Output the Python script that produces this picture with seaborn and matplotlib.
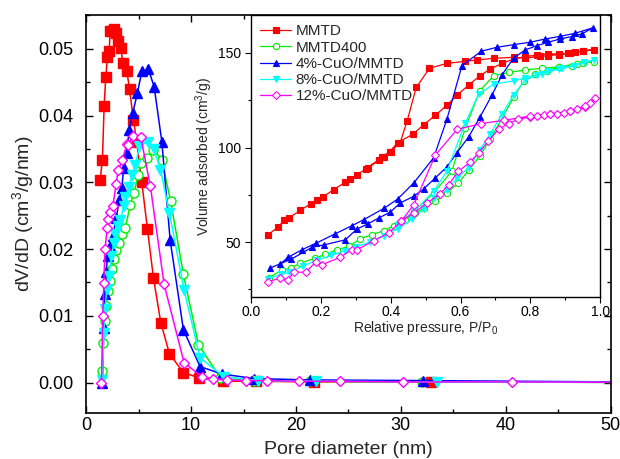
import matplotlib
matplotlib.use("Agg")
import matplotlib.pyplot as plt
import seaborn as sns
import numpy as np
from matplotlib.ticker import MultipleLocator

sns.set_theme(style="white")
plt.rcParams['font.family'] = ['Liberation Sans', 'DejaVu Sans']
plt.rcParams['mathtext.fontset'] = 'custom'
plt.rcParams['mathtext.rm'] = 'Liberation Sans'
plt.rcParams['mathtext.it'] = 'Liberation Sans'

labels = ["MMTD", "MMTD400", "4%-CuO/MMTD", "8%-CuO/MMTD", "12%-CuO/MMTD"]
colors = ["#FF0000", "#00EE00", "#0000FF", "#00FFFF", "#FF00FF"]

# ---- main panel: pore size distribution ----
d_mmtd = [1.33, 1.55, 1.71, 1.87, 2.03, 2.19, 2.29, 2.45, 2.67, 2.86, 3.08, 3.30, 3.50, 3.87, 4.13,
          4.50, 4.82, 5.30, 5.84, 6.41, 7.11, 7.94, 9.27, 10.8, 13.0, 16.2, 21.7, 32.9, 60.0]
v_mmtd = [0.0304, 0.0334, 0.0414, 0.0458, 0.0488, 0.0497, 0.0526, 0.0527, 0.0529, 0.0523, 0.0511,
          0.0501, 0.0479, 0.0467, 0.0440, 0.0394, 0.0360, 0.0300, 0.0230, 0.0157, 0.0090, 0.0043,
          0.0015, 0.0007, 0.0002, 0.0002, 0.0001, 0.0001, 0.0000]

d_400 = [1.50, 1.62, 1.75, 1.90, 2.05, 2.25, 2.45, 2.63, 2.85, 3.10, 3.43, 3.74, 4.20, 4.54, 4.98,
         5.20, 5.78, 6.41, 7.20, 8.05, 9.27, 10.7, 12.8, 16.0, 21.3, 32.0, 60.0]
v_400 = [0.0017, 0.0060, 0.0092, 0.0115, 0.0137, 0.0152, 0.0170, 0.0185, 0.0198, 0.0209, 0.0222,
         0.0232, 0.0266, 0.0284, 0.0311, 0.0329, 0.0336, 0.0349, 0.0334, 0.0272, 0.0162, 0.0057,
         0.0007, 0.0002, 0.0002, 0.0001, 0.0000]

d_4 = [1.55, 1.68, 1.78, 1.90, 2.05, 2.25, 2.54, 2.86, 3.17, 3.40, 3.56, 3.87, 4.10, 4.44, 4.89,
       5.30, 5.94, 6.48, 7.21, 8.00, 9.27, 10.86, 12.9, 16.0, 21.3, 32.1, 60.0]
v_4 = [0.0000, 0.0082, 0.0132, 0.0165, 0.0190, 0.0205, 0.0219, 0.0247, 0.0274, 0.0291, 0.0321,
       0.0344, 0.0379, 0.0404, 0.0434, 0.0466, 0.0469, 0.0443, 0.0361, 0.0214, 0.0079, 0.0024,
       0.0013, 0.0006, 0.0004, 0.0003, 0.0000]

d_8 = [1.55, 1.68, 1.80, 1.95, 2.16, 2.40, 2.63, 2.79, 3.00, 3.27, 3.59, 3.74, 4.06, 4.38, 4.69,
       5.08, 5.90, 6.45, 7.08, 7.94, 9.33, 10.86, 13.1, 16.4, 21.9, 33.4, 60.0]
v_8 = [0.0004, 0.0074, 0.0110, 0.0140, 0.0159, 0.0190, 0.0209, 0.0222, 0.0235, 0.0244, 0.0264,
       0.0278, 0.0293, 0.0311, 0.0326, 0.0354, 0.0361, 0.0350, 0.0319, 0.0254, 0.0139, 0.0037,
       0.0009, 0.0003, 0.0002, 0.0001, 0.0000]

d_12 = [1.46, 1.58, 1.68, 1.80, 2.00, 2.10, 2.30, 2.54, 2.86, 3.05, 3.43, 3.90, 4.03, 4.44, 5.20,
        6.12, 7.43, 9.33, 11.0, 12.1, 13.4, 15.2, 17.2, 20.3, 24.2, 30.2, 40.6, 60.0]
v_12 = [0.0000, 0.0100, 0.0149, 0.0200, 0.0232, 0.0245, 0.0255, 0.0264, 0.0298, 0.0318, 0.0333,
        0.0358, 0.0356, 0.0369, 0.0368, 0.0294, 0.0147, 0.0030, 0.0009, 0.0006, 0.0004, 0.0003,
        0.0003, 0.0002, 0.0002, 0.0001, 0.0001, 0.0000]

# ---- inset: N2 isotherms (adsorption then desorption) ----
p_mmtd = [0.049, 0.076, 0.095, 0.108, 0.141, 0.172, 0.189, 0.206, 0.237, 0.270, 0.284, 0.303, 0.329,
          0.365, 0.374, 0.397, 0.420, 0.463, 0.494, 0.528, 0.561, 0.590, 0.623, 0.656, 0.685, 0.719,
          0.752, 0.785, 0.819, 0.852, 0.881, 0.914, 0.952, 0.981,
          0.952, 0.928, 0.909, 0.881, 0.852, 0.828, 0.785, 0.752, 0.695, 0.647, 0.614, 0.561, 0.511,
          0.473, 0.447, 0.427, 0.400, 0.380, 0.335]
q_mmtd = [53.9, 57.8, 61.5, 62.7, 66.8, 70.4, 72.3, 73.9, 77.8, 81.7, 83.5, 85.4, 88.9,
          93.4, 95.0, 97.8, 102.6, 107.0, 112.0, 117.1, 122.4, 127.7, 133.0, 138.0, 141.5, 144.5,
          146.8, 148.1, 148.9, 149.5, 149.5, 149.8, 151.2, 151.8,
          150.9, 150.4, 149.8, 149.1, 148.6, 148.2, 147.3, 147.7, 147.2, 146.3, 145.6, 144.5, 141.9,
          131.8, 114.0, 102.6, 97.8, 95.0, 89.3]

p_400 = [0.051, 0.089, 0.113, 0.141, 0.184, 0.213, 0.246, 0.280, 0.313, 0.346, 0.380, 0.408, 0.442,
         0.470, 0.496, 0.528, 0.561, 0.594, 0.623, 0.655, 0.685, 0.719, 0.752, 0.781, 0.814, 0.847,
         0.881, 0.919, 0.952, 0.981,
         0.933, 0.881, 0.833, 0.785, 0.740, 0.695, 0.655, 0.614, 0.575, 0.523, 0.466, 0.420]
q_400 = [31.2, 35.3, 36.2, 38.9, 41.5, 43.6, 46.0, 47.7, 51.8, 53.9, 56.0, 58.7, 61.9,
         65.4, 68.0, 71.6, 76.0, 81.3, 87.9, 95.5, 104.3, 115.5, 126.5, 135.3, 138.8, 140.6,
         142.4, 143.3, 144.5, 145.4,
         144.2, 142.7, 141.9, 141.0, 139.7, 138.0, 130.0, 110.5, 87.5, 76.0, 66.3, 59.5]

p_4 = [0.053, 0.115, 0.175, 0.210, 0.270, 0.303, 0.335, 0.365, 0.399, 0.427, 0.466, 0.494, 0.528,
       0.561, 0.590, 0.623, 0.656, 0.690, 0.719, 0.752, 0.785, 0.819, 0.852, 0.885, 0.919, 0.948,
       0.979,
       0.928, 0.885, 0.843, 0.800, 0.752, 0.704, 0.659, 0.604, 0.561, 0.523, 0.466, 0.420, 0.382,
       0.323, 0.289, 0.241, 0.187, 0.146, 0.105, 0.084]
q_4 = [36.2, 41.0, 47.3, 48.6, 51.2, 56.9, 59.7, 62.7, 65.9, 70.7, 74.2, 78.1, 84.0,
       89.8, 97.3, 105.6, 116.2, 127.7, 138.5, 147.3, 151.6, 153.9, 155.7, 157.4, 158.7, 160.1,
       163.3,
       160.4, 158.8, 157.4, 155.7, 154.4, 153.0, 150.9, 143.3, 115.0, 94.6, 81.3, 72.8, 68.0,
       61.9, 58.7, 54.4, 49.5, 46.0, 41.9, 38.5]

p_8 = [0.049, 0.085, 0.110, 0.150, 0.190, 0.230, 0.270, 0.300, 0.340, 0.380, 0.420, 0.460, 0.495,
       0.523, 0.561, 0.590, 0.623, 0.655, 0.685, 0.719, 0.752, 0.785, 0.819, 0.852, 0.890, 0.924,
       0.955, 0.981,
       0.924, 0.881, 0.833, 0.785, 0.752, 0.695, 0.652, 0.614, 0.561, 0.523, 0.466, 0.420]
q_8 = [30.5, 33.0, 34.0, 37.5, 40.5, 43.0, 45.5, 47.5, 50.0, 53.5, 57.0, 62.0, 67.5,
       73.4, 77.4, 84.0, 89.3, 98.5, 107.3, 117.6, 127.9, 135.5, 138.5, 140.5, 141.8, 143.3,
       145.0, 146.3,
       143.3, 141.5, 138.8, 136.7, 135.3, 133.5, 128.2, 113.2, 87.5, 76.9, 66.0, 59.0]

p_12 = [0.049, 0.082, 0.105, 0.122, 0.156, 0.187, 0.203, 0.254, 0.289, 0.303, 0.351, 0.394, 0.430,
        0.466, 0.504, 0.542, 0.566, 0.594, 0.628, 0.652, 0.680, 0.709, 0.738, 0.766, 0.800, 0.819,
        0.838, 0.857, 0.876, 0.895, 0.914, 0.933, 0.957, 0.971, 0.986,
        0.957, 0.914, 0.857, 0.800, 0.724, 0.660, 0.590, 0.528, 0.466, 0.430]
q_12 = [28.8, 31.2, 30.0, 34.1, 34.1, 39.7, 38.0, 41.9, 46.0, 46.0, 50.7, 54.8, 61.0,
        65.4, 70.7, 75.5, 80.4, 87.5, 92.3, 97.3, 103.5, 109.6, 112.7, 115.0, 116.2, 116.7,
        117.3, 117.6, 118.0, 118.5, 119.4, 120.3, 121.5, 123.8, 126.1,
        122.0, 119.2, 117.8, 116.7, 114.4, 112.7, 109.6, 96.0, 69.8, 61.0]

markers = ["s", "o", "^", "v", "D"]
filled = [True, False, True, True, False]

main_d = [d_mmtd, d_400, d_4, d_8, d_12]
main_v = [v_mmtd, v_400, v_4, v_8, v_12]
ins_p = [p_mmtd, p_400, p_4, p_8, p_12]
ins_q = [q_mmtd, q_400, q_4, q_8, q_12]

fig = plt.figure(figsize=(6.2, 4.59), dpi=100)
ax = fig.add_axes([0.139, 0.101, 0.846, 0.867])

main_ms = [6.5, 6.5, 7.0, 7.0, 6.5]
for i in range(5):
    c = colors[i]
    fc = c if filled[i] else "white"
    ms = main_ms[i] if markers[i] != "D" else 5.5
    sns.lineplot(x=main_d[i], y=main_v[i], sort=False, estimator=None, ax=ax,
                 color=c, linewidth=1.1, marker=markers[i], markersize=ms,
                 markerfacecolor=fc, markeredgecolor=c, markeredgewidth=1.0,
                 legend=False)

ax.set_xlim(0, 50)
ax.set_ylim(-0.0045, 0.0551)
ax.xaxis.set_major_locator(MultipleLocator(10))
ax.xaxis.set_minor_locator(MultipleLocator(5))
ax.yaxis.set_major_locator(MultipleLocator(0.01))
ax.yaxis.set_minor_locator(MultipleLocator(0.005))
ax.yaxis.set_major_formatter(matplotlib.ticker.FormatStrFormatter('%.2f'))
ax.tick_params(which='both', direction='in', top=True, right=True, bottom=True, left=True,
               labelsize=13, colors='black')
ax.tick_params(which='major', length=5, width=1)
ax.tick_params(which='minor', length=3, width=1)
ax.tick_params(axis='x', pad=3)
ax.tick_params(axis='y', pad=9)
for s in ax.spines.values():
    s.set_color('black')
    s.set_linewidth(1.2)
ax.set_xlabel("Pore diameter (nm)", fontsize=14, labelpad=5)
ax.set_ylabel("dV/dD (cm$^3$/g/nm)", fontsize=14, labelpad=2)

# ---- inset ----
ins = fig.add_axes([0.405, 0.353, 0.563, 0.614])
ins.set_facecolor("white")
for i in range(5):
    c = colors[i]
    fc = c if filled[i] else "white"
    ms = 4.5 if markers[i] != "D" else 4.0
    sns.lineplot(x=ins_p[i], y=ins_q[i], sort=False, estimator=None, ax=ins,
                 color=c, linewidth=0.9, marker=markers[i], markersize=ms,
                 markerfacecolor=fc, markeredgecolor=c, markeredgewidth=0.8,
                 label=labels[i])

ins.set_xlim(0, 1.0)
ins.set_ylim(21, 170)
ins.xaxis.set_major_locator(MultipleLocator(0.2))
ins.xaxis.set_minor_locator(MultipleLocator(0.1))
ins.yaxis.set_major_locator(MultipleLocator(50))
ins.yaxis.set_minor_locator(MultipleLocator(25))
ins.xaxis.set_major_formatter(matplotlib.ticker.FormatStrFormatter('%.1f'))
ins.tick_params(which='both', direction='out', labelsize=10, colors='black')
ins.tick_params(which='major', length=4, width=0.8)
ins.tick_params(which='minor', length=2.5, width=0.8)
ins.tick_params(which='both', bottom=True, left=True)
ins.tick_params(axis='x', pad=2)
for s in ins.spines.values():
    s.set_color('black')
    s.set_linewidth(1.0)
ins.set_xlabel("Relative pressure, P/P$_0$", fontsize=10, labelpad=0)
ins.set_ylabel("Volume adsorbed (cm$^3$/g)", fontsize=10, labelpad=2)
leg = ins.legend(loc='upper left', frameon=False, fontsize=11, handlelength=2.0,
                 handletextpad=0.3, labelspacing=0.15, borderaxespad=0.2)

fig.savefig("out.png", dpi=100)
